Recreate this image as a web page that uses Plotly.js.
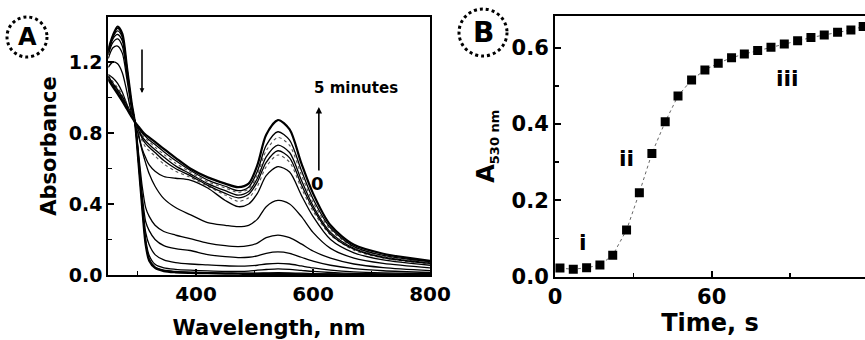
<!DOCTYPE html>
<html>
<head>
<meta charset="utf-8">
<script src="https://cdn.plot.ly/plotly-3.0.1.min.js"></script>
<style>html,body{margin:0;padding:0;background:#fff;overflow:hidden}</style>
</head>
<body>
<div id="chart" style="width:865px;height:340px"></div>
<script>
// ---------- Panel A: UV-vis spectra (wavelength, nm) ----------
const wavelength = [250, 258, 266, 274, 282, 290, 296, 302, 308, 314, 320, 330, 345, 365, 390, 420, 450, 472, 490, 505, 520, 540, 560, 580, 600, 630, 670, 720, 800];

// absorbance spectra, from 0 (first) to 5 minutes (last)
const spec0  = [1.27, 1.35, 1.40, 1.36, 1.17, 0.97, 0.85, 0.62, 0.38, 0.17, 0.08, 0.04, 0.022, 0.015, 0.012, 0.010, 0.008, 0.007, 0.006, 0.006, 0.006, 0.006, 0.005, 0.004, 0.004, 0.003, 0.002, 0.001, 0.0];
const spec1  = [1.265, 1.345, 1.39, 1.35, 1.165, 0.965, 0.85, 0.625, 0.39, 0.18, 0.09, 0.045, 0.027, 0.02, 0.016, 0.013, 0.011, 0.010, 0.011, 0.011, 0.012, 0.013, 0.012, 0.01, 0.008, 0.006, 0.004, 0.003, 0.002];
const spec2  = [1.26, 1.34, 1.375, 1.34, 1.16, 0.96, 0.855, 0.63, 0.40, 0.20, 0.11, 0.06, 0.04, 0.032, 0.027, 0.023, 0.02, 0.020, 0.022, 0.027, 0.031, 0.035, 0.032, 0.026, 0.02, 0.014, 0.009, 0.006, 0.004];
const spec3  = [1.25, 1.33, 1.355, 1.32, 1.15, 0.955, 0.855, 0.64, 0.42, 0.24, 0.17, 0.115, 0.085, 0.07, 0.062, 0.057, 0.052, 0.050, 0.051, 0.055, 0.062, 0.066, 0.062, 0.051, 0.04, 0.028, 0.018, 0.012, 0.007];
const spec4  = [1.24, 1.31, 1.33, 1.29, 1.13, 0.95, 0.855, 0.66, 0.45, 0.30, 0.25, 0.20, 0.165, 0.148, 0.138, 0.115, 0.103, 0.098, 0.100, 0.108, 0.122, 0.13, 0.122, 0.10, 0.078, 0.055, 0.036, 0.024, 0.014];
const spec5  = [1.22, 1.28, 1.29, 1.25, 1.10, 0.935, 0.855, 0.68, 0.50, 0.38, 0.33, 0.28, 0.245, 0.225, 0.205, 0.18, 0.165, 0.160, 0.165, 0.180, 0.21, 0.225, 0.21, 0.175, 0.135, 0.095, 0.062, 0.042, 0.025];
const spec6  = [1.17, 1.20, 1.19, 1.14, 1.03, 0.91, 0.86, 0.78, 0.70, 0.63, 0.57, 0.50, 0.43, 0.38, 0.34, 0.295, 0.28, 0.272, 0.280, 0.315, 0.385, 0.42, 0.40, 0.33, 0.24, 0.15, 0.095, 0.065, 0.04];
const spec7  = [1.13, 1.11, 1.08, 1.03, 0.96, 0.89, 0.86, 0.79, 0.71, 0.66, 0.62, 0.585, 0.555, 0.545, 0.535, 0.49, 0.42, 0.385, 0.400, 0.460, 0.56, 0.61, 0.58, 0.45, 0.33, 0.20, 0.125, 0.085, 0.055];
const spec8  = [1.125, 1.09, 1.055, 1.015, 0.96, 0.905, 0.86, 0.805, 0.755, 0.72, 0.70, 0.67, 0.625, 0.585, 0.55, 0.50, 0.45, 0.415, 0.435, 0.500, 0.61, 0.676, 0.635, 0.49, 0.36, 0.225, 0.14, 0.095, 0.062];
const spec9  = [1.12, 1.08, 1.045, 1.005, 0.955, 0.905, 0.86, 0.815, 0.77, 0.74, 0.72, 0.69, 0.645, 0.60, 0.56, 0.505, 0.46, 0.435, 0.455, 0.525, 0.635, 0.70, 0.66, 0.51, 0.375, 0.23, 0.145, 0.098, 0.065];
const spec10 = [1.115, 1.075, 1.035, 0.995, 0.95, 0.90, 0.86, 0.82, 0.78, 0.755, 0.735, 0.705, 0.665, 0.615, 0.57, 0.515, 0.475, 0.450, 0.470, 0.545, 0.665, 0.732, 0.69, 0.535, 0.39, 0.24, 0.15, 0.10, 0.068];
const spec11 = [1.11, 1.07, 1.03, 0.99, 0.945, 0.90, 0.86, 0.825, 0.79, 0.77, 0.75, 0.72, 0.68, 0.63, 0.58, 0.525, 0.49, 0.465, 0.485, 0.565, 0.70, 0.775, 0.73, 0.565, 0.41, 0.255, 0.155, 0.105, 0.072];
const spec12 = [1.105, 1.065, 1.025, 0.985, 0.94, 0.895, 0.86, 0.83, 0.80, 0.78, 0.76, 0.735, 0.695, 0.645, 0.59, 0.535, 0.50, 0.475, 0.495, 0.585, 0.73, 0.807, 0.76, 0.59, 0.43, 0.265, 0.16, 0.11, 0.075];
const spec13 = [1.10, 1.06, 1.02, 0.98, 0.935, 0.89, 0.86, 0.835, 0.81, 0.79, 0.775, 0.75, 0.71, 0.66, 0.60, 0.55, 0.515, 0.495, 0.515, 0.620, 0.79, 0.873, 0.82, 0.63, 0.46, 0.28, 0.17, 0.12, 0.08];

const spectra = [spec0, spec1, spec2, spec3, spec4, spec5, spec6, spec7, spec8, spec9, spec10, spec11, spec12, spec13];
const dottedSpectra = [8, 11];

// ---------- Panel B: kinetics at 530 nm ----------
const timeS = [1.9, 7.0, 12.1, 17.2, 22.1, 27.4, 32.3, 37.1, 42.2, 47.1, 52.3, 57.4, 62.5, 67.6, 72.5, 77.6, 82.7, 87.8, 92.9, 98.0, 103.1, 108.2, 113.3, 118.0];
const a530 = [0.022, 0.019, 0.023, 0.030, 0.056, 0.122, 0.220, 0.323, 0.406, 0.474, 0.516, 0.542, 0.560, 0.574, 0.584, 0.593, 0.602, 0.610, 0.619, 0.627, 0.634, 0.641, 0.647, 0.656];

const phaseLabels = ["i", "ii", "iii"];
const phaseX = [10.8, 27.4, 89.1];
const phaseY = [0.088, 0.31, 0.52];

const xTicksA = [400, 600, 800];
const yTicksA = [0.0, 0.4, 0.8, 1.2];
const xTicksB = [0, 60];
const yTicksB = [0.0, 0.2, 0.4, 0.6];

// ---------- build ----------
const FONT = "DejaVu Sans";
const traces = [];
spectra.forEach((s, i) => {
  const dotted = dottedSpectra.includes(i);
  const thick = (i === 0 || i === spectra.length - 1);
  traces.push({
    x: wavelength, y: s, type: "scatter", mode: "lines",
    xaxis: "x", yaxis: "y", hoverinfo: "skip",
    line: {color: dotted ? "#555" : "#000", width: thick ? 2.2 : (dotted ? 1.1 : 1.3),
           dash: dotted ? "dot" : "solid", shape: "spline", smoothing: 0.8}
  });
});
traces.push({
  x: timeS, y: a530, type: "scatter", mode: "lines+markers",
  xaxis: "x2", yaxis: "y2",
  line: {color: "#666", width: 1, dash: "dot"},
  marker: {symbol: "square", size: 9, color: "#000"}
});

const tickFontAx = {family: FONT, size: 20, color: "#000", weight: "bold"};
const tickFontAy = {family: FONT, size: 19, color: "#000", weight: "bold"};
const tickFontB = {family: FONT, size: 21, color: "#000", weight: "bold"};
const axisCommon = {showgrid: false, zeroline: false, showline: true, linecolor: "#000", linewidth: 2,
  ticks: "inside", ticklen: 6, tickwidth: 2, tickcolor: "#000"};

const W = 865, H = 340;
const px = v => v / W, py = v => 1 - v / H;

const annotations = [
  {xref: "paper", yref: "paper", x: px(27), y: py(37), text: "A", showarrow: false,
   font: {family: FONT, size: 24, weight: "bold", color: "#000"}, xanchor: "center", yanchor: "middle"},
  {xref: "paper", yref: "paper", x: px(483), y: py(32), text: "B", showarrow: false,
   font: {family: FONT, size: 28, weight: "bold", color: "#000"}, xanchor: "center", yanchor: "middle"},
  {xref: "x", yref: "y", x: 673, y: 1.054, text: "5 minutes", showarrow: false,
   font: {family: FONT, size: 15, weight: "bold", color: "#000"}, xanchor: "center", yanchor: "middle"},
  {xref: "x", yref: "y", x: 608, y: 0.518, text: "0", showarrow: false,
   font: {family: FONT, size: 18, weight: "bold", color: "#000"}, xanchor: "center", yanchor: "middle"},
  {xref: "x", yref: "y", x: 610, y: 0.946, ax: 610, ay: 0.58, axref: "x", ayref: "y", text: "",
   showarrow: true, arrowhead: 2, arrowsize: 0.8, arrowwidth: 1.6, arrowcolor: "#000"},
  {xref: "x", yref: "y", x: 307.7, y: 1.025, ax: 307.7, ay: 1.279, axref: "x", ayref: "y", text: "",
   showarrow: true, arrowhead: 2, arrowsize: 0.6, arrowwidth: 1.6, arrowcolor: "#000"}
];
phaseLabels.forEach((t, i) => annotations.push({
  xref: "x2", yref: "y2", x: phaseX[i], y: phaseY[i], text: t, showarrow: false,
  font: {family: FONT, size: 22, weight: "bold", color: "#000"}, xanchor: "center", yanchor: "middle"
}));

const layout = {
  width: W, height: H, margin: {l: 0, r: 0, t: 0, b: 0},
  paper_bgcolor: "#fff", plot_bgcolor: "#fff", showlegend: false,
  xaxis: Object.assign({}, axisCommon, {
    domain: [px(108.25), px(430)], range: [250, 800], anchor: "y", mirror: true,
    tickvals: xTicksA, tickfont: tickFontAx,
    minor: {tickvals: [300, 500, 700], ticks: "inside", ticklen: 4, tickwidth: 1.5, tickcolor: "#000"},
    title: {text: "Wavelength, nm", font: {family: FONT, size: 21, weight: "bold", color: "#000"}, standoff: 17}
  }),
  yaxis: Object.assign({}, axisCommon, {
    domain: [1 - 275 / H, 1 - 17 / H], range: [0, 1.4535], anchor: "x", mirror: true,
    tickvals: yTicksA, tickformat: ".1f", tickfont: tickFontAy,
    minor: {tickvals: [0.2, 0.6, 1.0], ticks: "inside", ticklen: 4, tickwidth: 1.5, tickcolor: "#000"},
    title: {text: "Absorbance", font: {family: FONT, size: 21, weight: "bold", color: "#000"}, standoff: 6}
  }),
  xaxis2: Object.assign({}, axisCommon, {
    domain: [px(555), 1], range: [0, 118.7], anchor: "y2", mirror: true,
    tickvals: xTicksB, tickfont: tickFontB,
    minor: {tickvals: [30, 90], ticks: "inside", ticklen: 4, tickwidth: 1.5, tickcolor: "#000"},
    title: {text: "Time, s", font: {family: FONT, size: 24, weight: "bold", color: "#000"}, standoff: 6}
  }),
  yaxis2: Object.assign({}, axisCommon, {
    domain: [1 - 276.5 / H, 1 - 16 / H], range: [0, 0.6837], anchor: "x2", mirror: false,
    tickvals: yTicksB, tickformat: ".1f", tickfont: tickFontB,
    minor: {tickvals: [0.1, 0.3, 0.5], ticks: "inside", ticklen: 4, tickwidth: 1.5, tickcolor: "#000"},
    title: {text: "A<sub><span style=\"font-size:13px\">530 nm</span></sub>", font: {family: FONT, size: 24, weight: "bold", color: "#000"}, standoff: 10}
  }),
  shapes: [
    {type: "circle", xref: "paper", yref: "paper", x0: px(7), x1: px(47), y0: py(57), y1: py(17),
     line: {color: "#000", width: 3, dash: "dot"}},
    {type: "circle", xref: "paper", yref: "paper", x0: px(459), x1: px(507), y0: py(56), y1: py(9),
     line: {color: "#000", width: 3, dash: "dot"}}
  ],
  annotations: annotations
};

Plotly.newPlot("chart", traces, layout, {staticPlot: true, displayModeBar: false});
</script>
</body>
</html>
